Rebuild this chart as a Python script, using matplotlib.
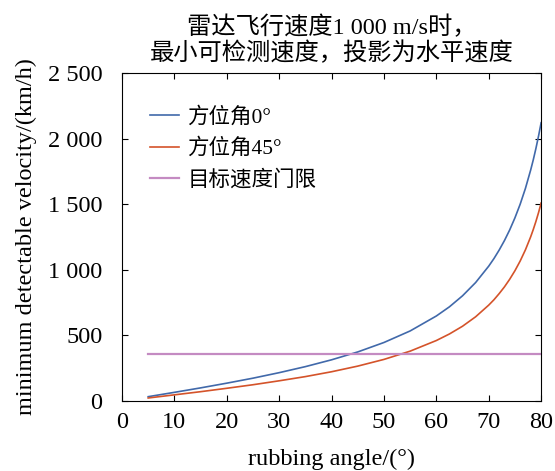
import matplotlib
matplotlib.use('Agg')
import matplotlib.pyplot as plt
from matplotlib.ticker import FuncFormatter

plt.rcParams['font.family'] = ['Liberation Serif', 'Noto Sans CJK SC']

# rubbing angle (deg) and minimum detectable velocity (km/h)
angle = [5, 10, 15, 20, 25, 30, 35, 40, 45, 50, 55, 60, 62.5, 65, 67.5,
         70, 71, 72, 73, 74, 75, 76, 77, 78, 78.5, 79, 79.5, 80]
v_az0 = [33, 66, 100, 136, 174, 216, 262, 314, 374, 446, 534, 648, 718, 802, 903,
         1028, 1086, 1151, 1223, 1304, 1396, 1500, 1620, 1760, 1838, 1924, 2018, 2121]
v_az45 = [23, 47, 71, 97, 124, 154, 186, 223, 266, 317, 380, 461, 511, 570, 642,
          731, 772, 819, 870, 928, 993, 1067, 1152, 1251, 1307, 1368, 1435, 1509]
gate_x = [5, 80]
gate_v = [355, 355]

fig = plt.figure(figsize=(5.55, 4.71), dpi=100)
ax = fig.add_axes([0.2198, 0.1486, 0.7552, 0.6964])

ax.plot(angle, v_az0, color='#4169aa', lw=1.2, label='方位角0°')
ax.plot(angle, v_az45, color='#d4532a', lw=1.2, label='方位角45°')
ax.plot(gate_x, gate_v, color='#c48bc2', lw=1.6, label='目标速度门限')

ax.set_xlim(0, 80)
ax.set_ylim(0, 2500)
ax.set_xticks(range(0, 81, 10))
ax.set_yticks(range(0, 2501, 500))
ax.yaxis.set_major_formatter(FuncFormatter(
    lambda v, p: f'{int(v):,}'.replace(',', ' ')))
ax.tick_params(direction='in', top=True, right=True, length=4,
               labelsize=17.5, width=0.8)
ax.tick_params(axis='x', pad=8)
ax.tick_params(axis='y', pad=14)
for s in ax.spines.values():
    s.set_linewidth(0.8)

ax.set_xlabel('rubbing angle/(°)', fontsize=17.5, labelpad=11)
ax.set_ylabel('minimum detectable velocity/(km/h)', fontsize=17.5, labelpad=8)
ax.set_title('雷达飞行速度1 000 m/s时，\n最小可检测速度，投影为水平速度',
             fontsize=17.5, linespacing=1.18, pad=9)

ax.legend(loc='upper left', frameon=False, fontsize=15.5, handlelength=1.35,
          handletextpad=0.4, labelspacing=0.5, bbox_to_anchor=(0.02, 0.955))

fig.savefig('out.png', dpi=100, facecolor='white')
